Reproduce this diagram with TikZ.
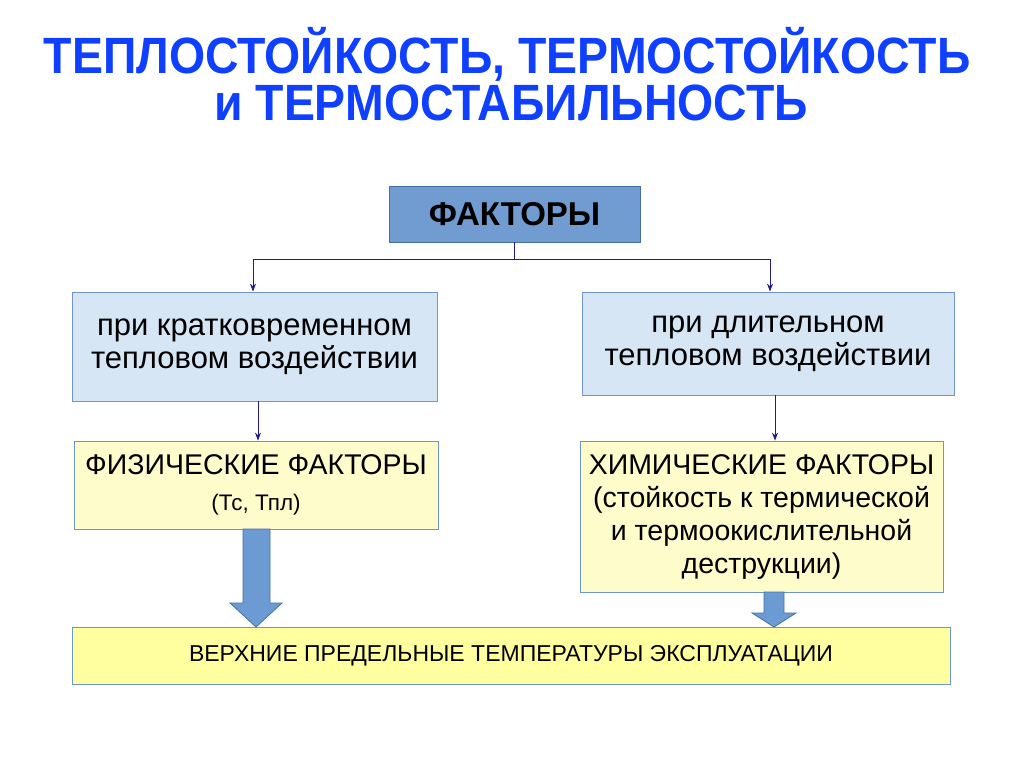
\documentclass[tikz,border=0pt]{standalone}
\usepackage{fontspec}
\setmainfont{Liberation Sans}
\newfontfamily\titlefont{Liberation Sans}[FakeStretch=0.91]
\usetikzlibrary{arrows.meta}

\definecolor{titleblue}{RGB}{16,64,255}
\definecolor{darkbox}{RGB}{112,156,210}
\definecolor{darkedge}{RGB}{70,110,170}
\definecolor{lightbox}{RGB}{214,230,245}
\definecolor{lightedge}{RGB}{110,150,205}
\definecolor{paleyellow}{RGB}{255,252,204}
\definecolor{brightyellow}{RGB}{255,255,160}
\definecolor{navy}{RGB}{30,30,130}
\definecolor{fatarrow}{RGB}{107,155,210}

\tikzset{
  factorbox/.style={draw=darkedge, fill=darkbox, thick, minimum width=251pt, minimum height=56pt,
    font=\fontsize{33}{38}\selectfont\bfseries},
  heatbox/.style={draw=lightedge, fill=lightbox, thick, align=center,
    font=\fontsize{31}{33}\selectfont},
  kindbox/.style={draw=lightedge, fill=paleyellow, thick, align=center,
    font=\fontsize{28.5}{33}\selectfont},
  limitbox/.style={draw=lightedge, fill=brightyellow, thick, minimum width=878pt, minimum height=57pt,
    font=\fontsize{23}{26}\selectfont},
  titletext/.style={titleblue, anchor=base, font=\titlefont\fontsize{51}{56}\selectfont\bfseries},
  thinarrow/.style={navy, thick, -{Stealth[length=8pt,width=6pt]}},
  fatarrowstyle/.style={fill=fatarrow, draw=darkedge, thick}
}

\begin{document}
\begin{tikzpicture}[x=1pt,y=-1pt]
\useasboundingbox (0,0) rectangle (1024,768);

% title
\node[titletext] (title1) at (507,73) {ТЕПЛОСТОЙКОСТЬ, ТЕРМОСТОЙКОСТЬ};
\node[titletext] (title2) at (511,120) {и ТЕРМОСТАБИЛЬНОСТЬ};

% boxes
\node[factorbox] (factors) at (514.5,214) {ФАКТОРЫ};
\node[heatbox, minimum width=365pt, minimum height=109pt] (short) at (254.5,346.5) {при кратковременном\\тепловом воздействии};
\node[heatbox, minimum width=372pt, minimum height=103pt] (long) at (768,343.5) {при длительном\\тепловом воздействии};
\node[kindbox, minimum width=364pt, minimum height=88pt] (phys) at (256,485) {ФИЗИЧЕСКИЕ ФАКТОРЫ\\[3pt]{\fontsize{22.5}{26}\selectfont (Тс, Тпл)}};
\node[kindbox, minimum width=363pt, minimum height=151pt] (chem) at (761.5,516.5) {ХИМИЧЕСКИЕ ФАКТОРЫ\\(стойкость к термической\\и термоокислительной\\деструкции)};
\node[limitbox] (limit) at (511,655.5) {ВЕРХНИЕ ПРЕДЕЛЬНЫЕ ТЕМПЕРАТУРЫ ЭКСПЛУАТАЦИИ};

% connectors
\coordinate (split) at ([yshift=-17pt]factors.south);
\draw[navy, thick] (factors.south) -- (split);
\draw[thinarrow] (split) -| ([xshift=-1.5pt]short.north);
\draw[thinarrow] (split) -| ([xshift=2pt]long.north);
\draw[thinarrow] ([xshift=3.5pt]short.south) -- ([xshift=3.5pt]short.south |- phys.north);
\draw[thinarrow] ([xshift=7pt]long.south) -- ([xshift=7pt]long.south |- chem.north);

% fat arrows
\draw[fatarrowstyle] (243,529) -- (270,529) -- (270,603) -- (282,603) -- (256,627) -- (230,603) -- (243,603) -- cycle;
\draw[fatarrowstyle] (764,592) -- (784,592) -- (784,613) -- (796,613) -- (774,627) -- (752,613) -- (764,613) -- cycle;
\end{tikzpicture}
\end{document}
